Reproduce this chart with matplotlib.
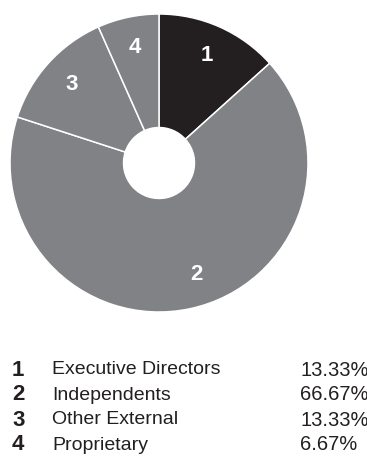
import matplotlib
matplotlib.use("Agg")
import matplotlib.pyplot as plt
import numpy as np

# board composition
numbers = ["1", "2", "3", "4"]
categories = ["Executive Directors", "Independents", "Other External", "Proprietary"]
shares = [13.33, 66.67, 13.33, 6.67]
pct_labels = ["13.33%", "66.67%", "13.33%", "6.67%"]

DARK = "#231f20"
GRAY = "#808285"
colors = [DARK, GRAY, GRAY, GRAY]

plt.rcParams["font.family"] = ["Liberation Sans", "DejaVu Sans"]

W, H = 367, 459
fig = plt.figure(figsize=(W / 100, H / 100), dpi=100)

# donut: centre (159,163) px, radius 149 px
cx, cy, r = 159, 163, 149
ax = fig.add_axes([(cx - r) / W, (H - cy - r) / H, 2 * r / W, 2 * r / H])
LABEL_DIST = 0.79
wedges, texts = ax.pie(
    shares, colors=colors, labels=numbers, startangle=90, counterclock=False,
    radius=1, labeldistance=LABEL_DIST,
    wedgeprops=dict(width=1 - 0.238, edgecolor="white", linewidth=1.1),
    textprops=dict(color="white", fontsize=16, fontweight="bold", ha="center", va="center"),
)
# the big slice's number sits a little right of its middle in the original
w = wedges[1]
mid = np.deg2rad((w.theta1 + w.theta2) / 2 + 6.5)
texts[1].set_position((LABEL_DIST * np.cos(mid), LABEL_DIST * np.sin(mid)))

ax.set_xlim(-1, 1)
ax.set_ylim(-1, 1)
ax.axis("off")

# legend rows below the chart
row_y = [370, 395, 420, 445]
for num, name, pct, y in zip(numbers, categories, pct_labels, row_y):
    fy = 1 - y / H
    fig.text(12 / W, fy, num, fontsize=16, fontweight="bold", color=DARK, va="center", ha="left")
    fig.text(52 / W, fy, name, fontsize=14, color=DARK, va="center", ha="left")
    fig.text(300 / W, fy, pct, fontsize=14.5, color=DARK, va="center", ha="left")

fig.savefig("out.png", dpi=100)
